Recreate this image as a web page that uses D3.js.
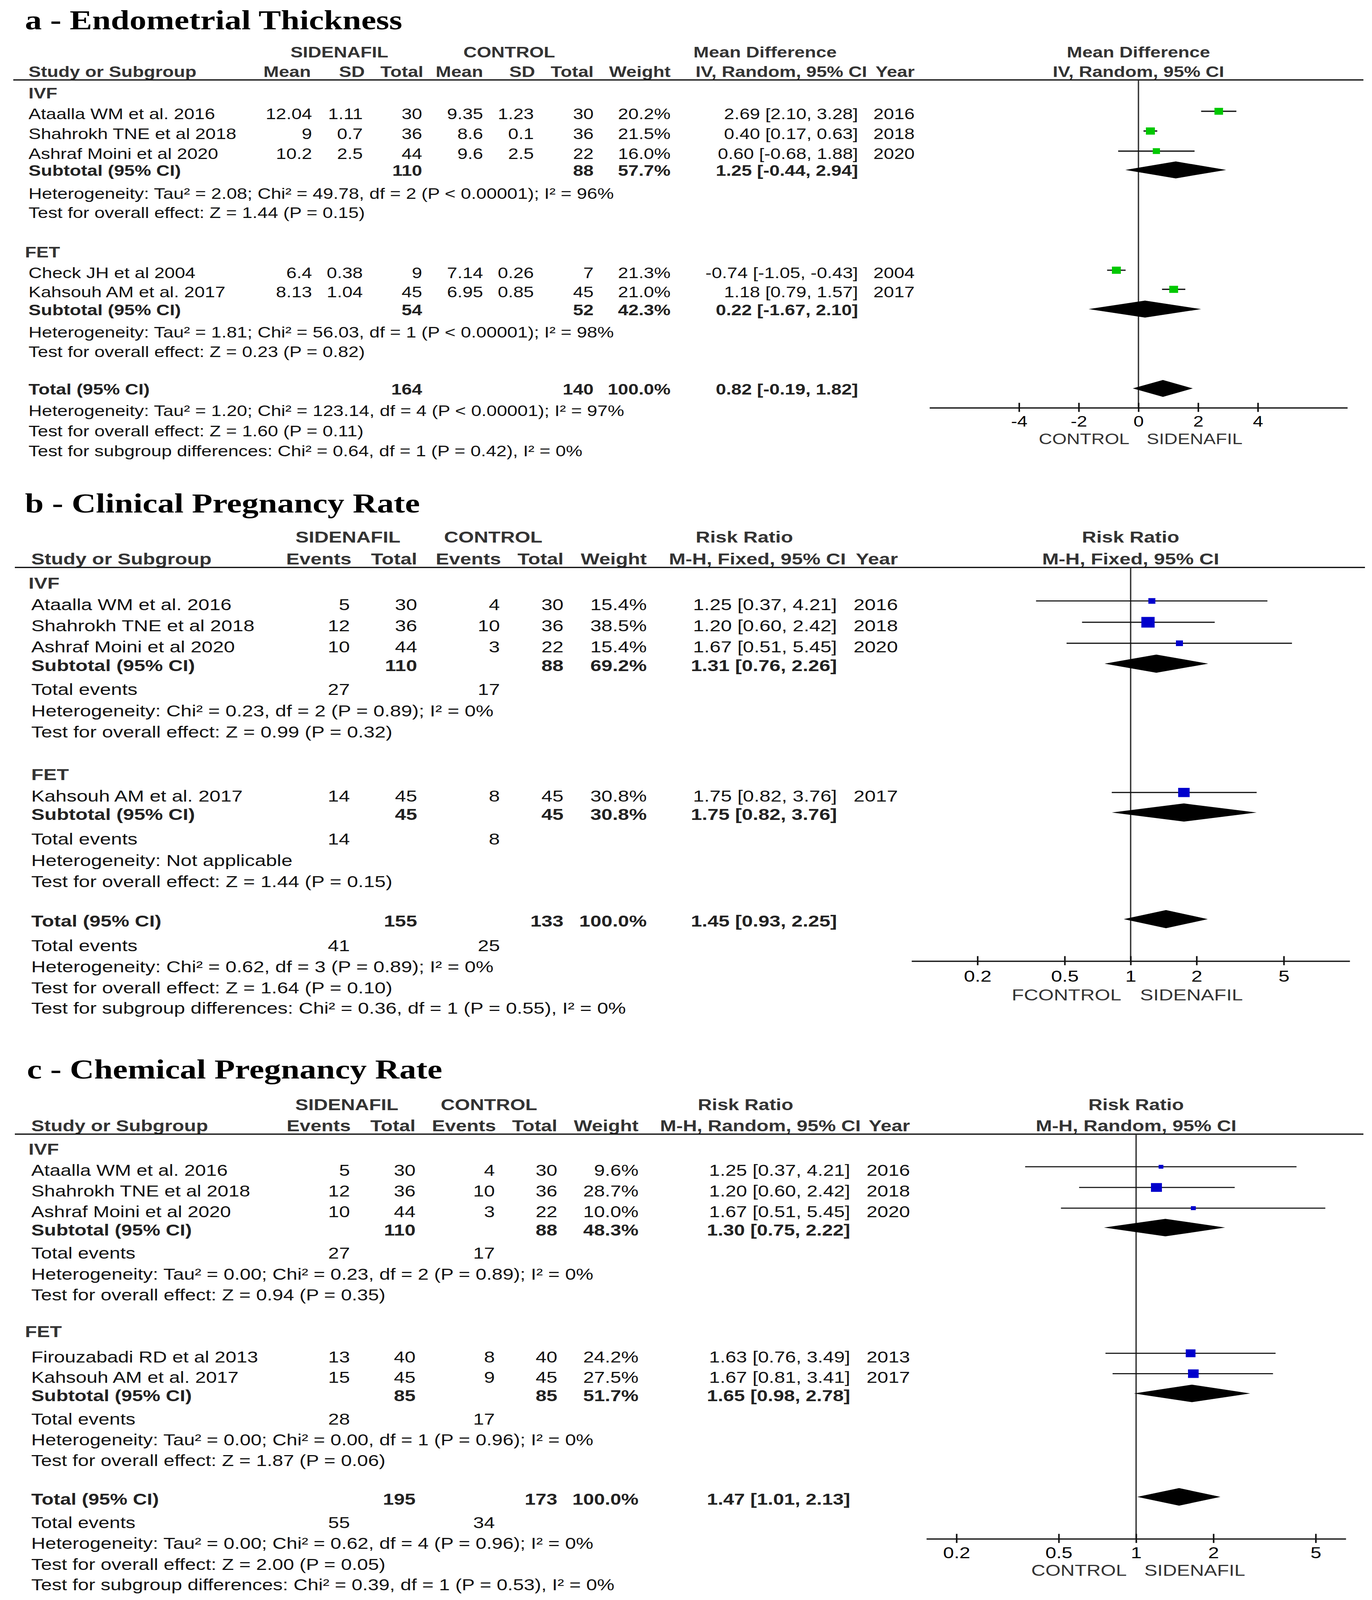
<!DOCTYPE html>
<html>
<head>
<meta charset="utf-8">
<script src="https://cdn.jsdelivr.net/npm/d3@7"></script>
<style>
  html, body { margin: 0; padding: 0; width: 100%; height: 100%; overflow: hidden; background: #fff; }
  #chart svg { display: block; width: 100vw; height: 100vh; }
</style>
</head>
<body>
<div id="chart"></div>
<script>
// ---------- a - Endometrial Thickness ----------
const etStudy = ['Ataalla WM et al. 2016', 'Shahrokh TNE et al 2018', 'Ashraf Moini et al 2020', 'Check JH et al 2004', 'Kahsouh AM et al. 2017'];
const etGroup = [0, 0, 0, 1, 1];
const etSilMean = [12.04, 9, 10.2, 6.4, 8.13];
const etSilSD = [1.11, 0.7, 2.5, 0.38, 1.04];
const etSilN = [30, 36, 44, 9, 45];
const etCtlMean = [9.35, 8.6, 9.6, 7.14, 6.95];
const etCtlSD = [1.23, 0.1, 2.5, 0.26, 0.85];
const etCtlN = [30, 36, 22, 7, 45];
const etWeight = [20.2, 21.5, 16.0, 21.3, 21.0];
const etEst = [2.69, 0.40, 0.60, -0.74, 1.18];
const etLo = [2.10, 0.17, -0.68, -1.05, 0.79];
const etHi = [3.28, 0.63, 1.88, -0.43, 1.57];
const etYear = [2016, 2018, 2020, 2004, 2017];
// summaries: IVF, FET, overall
const etSumSilN = [110, 54, 164];
const etSumCtlN = [88, 52, 140];
const etSumWeight = [57.7, 42.3, 100.0];
const etSumEst = [1.25, 0.22, 0.82];
const etSumLo = [-0.44, -1.67, -0.19];
const etSumHi = [2.94, 2.10, 1.82];
const etHet = [
  'Heterogeneity: Tau² = 2.08; Chi² = 49.78, df = 2 (P < 0.00001); I² = 96%',
  'Heterogeneity: Tau² = 1.81; Chi² = 56.03, df = 1 (P < 0.00001); I² = 98%',
  'Heterogeneity: Tau² = 1.20; Chi² = 123.14, df = 4 (P < 0.00001); I² = 97%'
];
const etTest = ['Test for overall effect: Z = 1.44 (P = 0.15)', 'Test for overall effect: Z = 0.23 (P = 0.82)', 'Test for overall effect: Z = 1.60 (P = 0.11)'];
const etSubgroup = 'Test for subgroup differences: Chi² = 0.64, df = 1 (P = 0.42), I² = 0%';
const etTicks = [-4, -2, 0, 2, 4];

// ---------- b - Clinical Pregnancy Rate ----------
const cpStudy = ['Ataalla WM et al. 2016', 'Shahrokh TNE et al 2018', 'Ashraf Moini et al 2020', 'Kahsouh AM et al. 2017'];
const cpGroup = [0, 0, 0, 1];
const cpSilEv = [5, 12, 10, 14];
const cpSilN = [30, 36, 44, 45];
const cpCtlEv = [4, 10, 3, 8];
const cpCtlN = [30, 36, 22, 45];
const cpWeight = [15.4, 38.5, 15.4, 30.8];
const cpEst = [1.25, 1.20, 1.67, 1.75];
const cpLo = [0.37, 0.60, 0.51, 0.82];
const cpHi = [4.21, 2.42, 5.45, 3.76];
const cpYear = [2016, 2018, 2020, 2017];
const cpSumSilN = [110, 45, 155];
const cpSumCtlN = [88, 45, 133];
const cpSumWeight = [69.2, 30.8, 100.0];
const cpSumEst = [1.31, 1.75, 1.45];
const cpSumLo = [0.76, 0.82, 0.93];
const cpSumHi = [2.26, 3.76, 2.25];
const cpTotSilEv = [27, 14, 41];
const cpTotCtlEv = [17, 8, 25];
const cpHet = ['Heterogeneity: Chi² = 0.23, df = 2 (P = 0.89); I² = 0%', 'Heterogeneity: Not applicable', 'Heterogeneity: Chi² = 0.62, df = 3 (P = 0.89); I² = 0%'];
const cpTest = ['Test for overall effect: Z = 0.99 (P = 0.32)', 'Test for overall effect: Z = 1.44 (P = 0.15)', 'Test for overall effect: Z = 1.64 (P = 0.10)'];
const cpSubgroup = 'Test for subgroup differences: Chi² = 0.36, df = 1 (P = 0.55), I² = 0%';

// ---------- c - Chemical Pregnancy Rate ----------
const chStudy = ['Ataalla WM et al. 2016', 'Shahrokh TNE et al 2018', 'Ashraf Moini et al 2020', 'Firouzabadi RD et al 2013', 'Kahsouh AM et al. 2017'];
const chGroup = [0, 0, 0, 1, 1];
const chSilEv = [5, 12, 10, 13, 15];
const chSilN = [30, 36, 44, 40, 45];
const chCtlEv = [4, 10, 3, 8, 9];
const chCtlN = [30, 36, 22, 40, 45];
const chWeight = [9.6, 28.7, 10.0, 24.2, 27.5];
const chEst = [1.25, 1.20, 1.67, 1.63, 1.67];
const chLo = [0.37, 0.60, 0.51, 0.76, 0.81];
const chHi = [4.21, 2.42, 5.45, 3.49, 3.41];
const chYear = [2016, 2018, 2020, 2013, 2017];
const chSumSilN = [110, 85, 195];
const chSumCtlN = [88, 85, 173];
const chSumWeight = [48.3, 51.7, 100.0];
const chSumEst = [1.30, 1.65, 1.47];
const chSumLo = [0.75, 0.98, 1.01];
const chSumHi = [2.22, 2.78, 2.13];
const chTotSilEv = [27, 28, 55];
const chTotCtlEv = [17, 17, 34];
const chHet = [
  'Heterogeneity: Tau² = 0.00; Chi² = 0.23, df = 2 (P = 0.89); I² = 0%',
  'Heterogeneity: Tau² = 0.00; Chi² = 0.00, df = 1 (P = 0.96); I² = 0%',
  'Heterogeneity: Tau² = 0.00; Chi² = 0.62, df = 4 (P = 0.96); I² = 0%'
];
const chTest = ['Test for overall effect: Z = 0.94 (P = 0.35)', 'Test for overall effect: Z = 1.87 (P = 0.06)', 'Test for overall effect: Z = 2.00 (P = 0.05)'];
const chSubgroup = 'Test for subgroup differences: Chi² = 0.39, df = 1 (P = 0.53), I² = 0%';

const rrTicks = [0.2, 0.5, 1, 2, 5];
const groupNames = ['IVF', 'FET'];

const SANS = '"Liberation Sans", Arial, Helvetica, sans-serif';
const SERIF = '"Liberation Serif", "Times New Roman", Times, serif';

const W = 3513, H = 5104;
// drawn in reference pixels; the viewBox fits it to whatever the window gives
const svg = d3.select('#chart').append('svg')
  .attr('viewBox', `0 0 ${W} ${H}`)
  .attr('preserveAspectRatio', 'none');
svg.append('rect').attr('width', W).attr('height', H).attr('fill', '#fff');

const ci = (e, l, h) => `${e.toFixed(2)} [${l.toFixed(2)}, ${h.toFixed(2)}]`;
const pct = (w) => w.toFixed(1) + '%';
const boxSize = d3.scaleLinear().domain([Math.sqrt(15.4), Math.sqrt(38.5)]).range([18, 34]);

function addText(g, x, y, str, o) {
  return g.append('text')
    .attr('x', x).attr('y', y)
    .attr('text-anchor', o.anchor || 'start')
    .style('font-family', SANS)
    .attr('font-size', o.size)
    .attr('font-weight', o.bold ? 'bold' : 'normal')
    .attr('fill', o.fill || '#111')
    .text(str);
}

function drawPanel(p) {
  const L = p.layout;
  const g = svg.append('g');
  const fs = L.fs;

  g.append('text')
    .attr('x', L.titleX).attr('y', L.titleY)
    .style('font-family', SERIF)
    .attr('font-weight', 'bold').attr('font-size', 86).attr('fill', '#000')
    .text(p.title);

  // headers
  p.head1.forEach((t, i) => addText(g, L.groupCenters[i], L.head1, t, {anchor: 'middle', size: fs, bold: true, fill: '#333'}));
  addText(g, L.left, L.head2, 'Study or Subgroup', {size: fs, bold: true, fill: '#333'});
  p.head2.forEach((t, i) => addText(g, L.headCols[i], L.head2, t, {anchor: 'end', size: fs, bold: true, fill: '#333'}));
  g.append('line').attr('x1', L.ruleX[0]).attr('x2', L.ruleX[1])
    .attr('y1', L.rule).attr('y2', L.rule).attr('stroke', '#111').attr('stroke-width', 4);

  const x = p.scale;
  const zeroX = x(p.nullValue);
  addText(g, zeroX, L.head1, p.rightHead[0], {anchor: 'middle', size: fs, bold: true, fill: '#333'});
  addText(g, zeroX, L.head2, p.rightHead[1], {anchor: 'middle', size: fs, bold: true, fill: '#333'});

  // table body
  const rowCells = (cells, y, bold) => cells.forEach((c, j) => {
    if (c !== '') addText(g, L.cols[j], y, c, {anchor: 'end', size: fs, bold: bold, fill: bold ? '#222' : '#111'});
  });

  [0, 1, 2].forEach((k) => {
    if (k < 2) addText(g, L.groupX[k], L.groupY[k], groupNames[k], {size: fs, bold: true, fill: '#333'});
    addText(g, L.left, L.sumY[k], k < 2 ? 'Subtotal (95% CI)' : 'Total (95% CI)', {size: fs, bold: true, fill: '#222'});
    rowCells(p.sumCells[k], L.sumY[k], true);
    if (p.events) {
      addText(g, L.left, L.evY[k], 'Total events', {size: fs});
      addText(g, L.cols[0], L.evY[k], String(p.events[0][k]), {anchor: 'end', size: fs});
      addText(g, L.cols[2], L.evY[k], String(p.events[1][k]), {anchor: 'end', size: fs});
    }
    addText(g, L.left, L.hetY[k], p.het[k], {size: fs});
    addText(g, L.left, L.testY[k], p.test[k], {size: fs});
  });
  addText(g, L.left, L.subY, p.subgroup, {size: fs});

  p.studies.forEach((s, i) => {
    addText(g, L.left, L.studyY[i], s, {size: fs});
    rowCells(p.studyCells[i], L.studyY[i], false);
  });

  // plot
  g.append('line').attr('x1', zeroX).attr('x2', zeroX)
    .attr('y1', L.rule).attr('y2', L.axisY)
    .attr('stroke', '#333').attr('stroke-width', 3.5);

  const marks = g.append('g');
  p.est.forEach((e, i) => {
    const y = L.studyY[i] - L.boxOff;
    marks.append('line')
      .attr('x1', x(p.lo[i])).attr('x2', x(p.hi[i]))
      .attr('y1', y).attr('y2', y)
      .attr('stroke', '#111').attr('stroke-width', L.ciWidth);
    const s = boxSize(Math.sqrt(p.weight[i]));
    marks.append('rect')
      .attr('x', x(e) - s / 2).attr('y', y - s / 2)
      .attr('width', s).attr('height', s)
      .attr('fill', p.color);
  });

  p.sumEst.forEach((e, k) => {
    const y = L.sumY[k] - L.diaOff;
    const h = L.diaHalf;
    marks.append('path')
      .attr('d', `M${x(p.sumLo[k])},${y}L${x(e)},${y - h}L${x(p.sumHi[k])},${y}L${x(e)},${y + h}Z`)
      .attr('fill', '#000');
  });

  const axis = d3.axisBottom(x)
    .tickValues(p.ticks)
    .tickSize(13)
    .tickSizeOuter(0)
    .tickFormat((d) => String(d));
  const ax = g.append('g').attr('transform', `translate(0,${L.axisY})`).call(axis);
  ax.select('.domain').attr('stroke', '#111').attr('stroke-width', 4);
  ax.selectAll('.tick line').attr('y1', -16).attr('stroke', '#111').attr('stroke-width', 4);
  ax.selectAll('.tick text')
    .attr('y', L.tickY - L.axisY).attr('dy', null)
    .attr('font-size', fs).attr('fill', '#000')
    .style('font-family', SANS);

  addText(g, L.labelGap[0], L.labelY, p.axisLabels[0], {anchor: 'end', size: fs, fill: '#333'});
  addText(g, L.labelGap[1], L.labelY, p.axisLabels[1], {size: fs, fill: '#333'});
}

// ----- panel a -----
drawPanel({
  title: 'a - Endometrial Thickness',
  head1: ['SIDENAFIL', 'CONTROL', 'Mean Difference'],
  head2: ['Mean', 'SD', 'Total', 'Mean', 'SD', 'Total', 'Weight', 'IV, Random, 95% CI', 'Year'],
  rightHead: ['Mean Difference', 'IV, Random, 95% CI'],
  studies: etStudy,
  studyCells: etStudy.map((s, i) => [
    String(etSilMean[i]), String(etSilSD[i]), String(etSilN[i]),
    String(etCtlMean[i]), String(etCtlSD[i]), String(etCtlN[i]),
    pct(etWeight[i]), ci(etEst[i], etLo[i], etHi[i]), String(etYear[i])
  ]),
  sumCells: [0, 1, 2].map((k) => ['', '', String(etSumSilN[k]), '', '', String(etSumCtlN[k]), pct(etSumWeight[k]), ci(etSumEst[k], etSumLo[k], etSumHi[k]), '']),
  events: null,
  het: etHet, test: etTest, subgroup: etSubgroup,
  est: etEst, lo: etLo, hi: etHi, weight: etWeight,
  sumEst: etSumEst, sumLo: etSumLo, sumHi: etSumHi,
  scale: d3.scaleLinear().domain([-7, 7]).range([2380, 3450]),
  nullValue: 0,
  ticks: etTicks,
  axisLabels: ['CONTROL', 'SIDENAFIL'],
  color: '#00c800',
  layout: {
    fs: 47.5, titleX: 64, titleY: 94,
    head1: 183, head2: 245, rule: 255, ruleX: [34, 3491],
    left: 73, groupX: [73, 64],
    cols: [799, 929, 1081, 1237, 1367, 1520, 1717, 2197, 2342],
    headCols: [796, 934, 1084, 1237, 1370, 1520, 1717, 2220, 2342],
    groupCenters: [869, 1304, 1959],
    groupY: [314, 821],
    studyY: [380, 443, 507, 887, 948],
    sumY: [561, 1005, 1258],
    hetY: [634, 1077, 1327], testY: [695, 1139, 1392], subY: 1455,
    axisY: 1301, tickY: 1361, labelY: 1417, labelGap: [2892, 2936],
    boxOff: 25, diaOff: 19, diaHalf: 27, ciWidth: 4
  }
});

// ----- panel b -----
drawPanel({
  title: 'b - Clinical Pregnancy Rate',
  head1: ['SIDENAFIL', 'CONTROL', 'Risk Ratio'],
  head2: ['Events', 'Total', 'Events', 'Total', 'Weight', 'M-H, Fixed, 95% CI', 'Year'],
  rightHead: ['Risk Ratio', 'M-H, Fixed, 95% CI'],
  studies: cpStudy,
  studyCells: cpStudy.map((s, i) => [
    String(cpSilEv[i]), String(cpSilN[i]), String(cpCtlEv[i]), String(cpCtlN[i]),
    pct(cpWeight[i]), ci(cpEst[i], cpLo[i], cpHi[i]), String(cpYear[i])
  ]),
  sumCells: [0, 1, 2].map((k) => ['', String(cpSumSilN[k]), '', String(cpSumCtlN[k]), pct(cpSumWeight[k]), ci(cpSumEst[k], cpSumLo[k], cpSumHi[k]), '']),
  events: [cpTotSilEv, cpTotCtlEv],
  het: cpHet, test: cpTest, subgroup: cpSubgroup,
  est: cpEst, lo: cpLo, hi: cpHi, weight: cpWeight,
  sumEst: cpSumEst, sumLo: cpSumLo, sumHi: cpSumHi,
  scale: d3.scaleLog().domain([0.1, 10]).range([2334, 3456]),
  nullValue: 1,
  ticks: rrTicks,
  axisLabels: ['FCONTROL', 'SIDENAFIL'],
  color: '#0000cc',
  layout: {
    fs: 51, titleX: 64, titleY: 1635,
    head1: 1731, head2: 1800, rule: 1810, ruleX: [38, 3495],
    left: 80, groupX: [73, 80],
    cols: [896, 1068, 1280, 1443, 1656, 2143, 2299],
    headCols: [900, 1068, 1283, 1443, 1656, 2166, 2299],
    groupCenters: [891, 1263, 1906],
    groupY: [1878, 2488],
    studyY: [1946, 2014, 2081, 2557],
    sumY: [2141, 2616, 2956],
    evY: [2217, 2694, 3034],
    hetY: [2285, 2763, 3101], testY: [2353, 2830, 3169], subY: 3234,
    axisY: 3066, tickY: 3132, labelY: 3191, labelGap: [2871, 2919],
    boxOff: 29, diaOff: 24, diaHalf: 29, ciWidth: 3.5
  }
});

// ----- panel c -----
drawPanel({
  title: 'c - Chemical Pregnancy Rate',
  head1: ['SIDENAFIL', 'CONTROL', 'Risk Ratio'],
  head2: ['Events', 'Total', 'Events', 'Total', 'Weight', 'M-H, Random, 95% CI', 'Year'],
  rightHead: ['Risk Ratio', 'M-H, Random, 95% CI'],
  studies: chStudy,
  studyCells: chStudy.map((s, i) => [
    String(chSilEv[i]), String(chSilN[i]), String(chCtlEv[i]), String(chCtlN[i]),
    pct(chWeight[i]), ci(chEst[i], chLo[i], chHi[i]), String(chYear[i])
  ]),
  sumCells: [0, 1, 2].map((k) => ['', String(chSumSilN[k]), '', String(chSumCtlN[k]), pct(chSumWeight[k]), ci(chSumEst[k], chSumLo[k], chSumHi[k]), '']),
  events: [chTotSilEv, chTotCtlEv],
  het: chHet, test: chTest, subgroup: chSubgroup,
  est: chEst, lo: chLo, hi: chHi, weight: chWeight,
  sumEst: chSumEst, sumLo: chSumLo, sumHi: chSumHi,
  scale: d3.scaleLog().domain([0.1527, 6.55]).range([2372, 3446]),
  nullValue: 1,
  ticks: rrTicks,
  axisLabels: ['CONTROL', 'SIDENAFIL'],
  color: '#0000cc',
  layout: {
    fs: 50, titleX: 69, titleY: 3441,
    head1: 3542, head2: 3609, rule: 3618, ruleX: [38, 3491],
    left: 80, groupX: [73, 64],
    cols: [896, 1064, 1267, 1427, 1635, 2177, 2330],
    headCols: [898, 1064, 1270, 1427, 1635, 2204, 2330],
    groupCenters: [888, 1252, 1909],
    groupY: [3683, 4266],
    studyY: [3751, 3817, 3883, 4346, 4411],
    sumY: [3941, 4470, 4800],
    evY: [4015, 4544, 4875],
    hetY: [4082, 4611, 4941], testY: [4148, 4676, 5008], subY: 5073,
    axisY: 4909, tickY: 4971, labelY: 5027, labelGap: [2885, 2930],
    boxOff: 29, diaOff: 25, diaHalf: 28, ciWidth: 3.5
  }
});
</script>
</body>
</html>
